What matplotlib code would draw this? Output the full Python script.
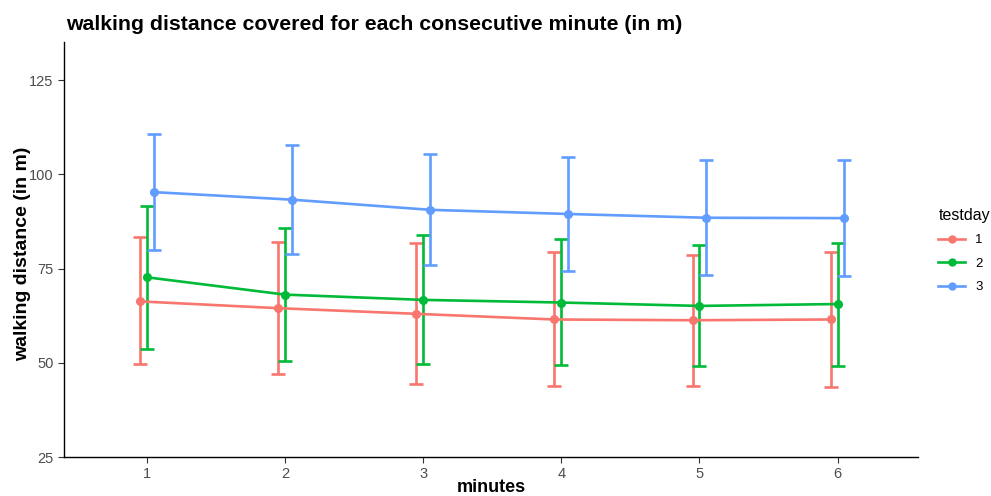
import numpy as np
import matplotlib
matplotlib.use("Agg")
import matplotlib.pyplot as plt
from matplotlib.lines import Line2D

plt.rcParams['font.family'] = ['Liberation Sans', 'DejaVu Sans']

minutes = [1, 2, 3, 4, 5, 6]
testdays = ["1", "2", "3"]
colors = ["#F8766D", "#00BA38", "#619CFF"]

# mean distance per minute and the error bar ends, one list per testday
mean_day1 = [66.3, 64.5, 63.0, 61.5, 61.3, 61.5]
low_day1 = [49.6, 46.9, 44.5, 43.9, 43.9, 43.7]
high_day1 = [83.3, 82.0, 81.7, 79.4, 78.7, 79.5]

mean_day2 = [72.7, 68.1, 66.7, 66.0, 65.1, 65.6]
low_day2 = [53.7, 50.4, 49.8, 49.3, 49.2, 49.2]
high_day2 = [91.7, 85.9, 84.0, 82.8, 81.2, 81.9]

mean_day3 = [95.3, 93.3, 90.6, 89.5, 88.5, 88.4]
low_day3 = [79.9, 78.9, 76.0, 74.3, 73.2, 73.1]
high_day3 = [110.6, 107.8, 105.3, 104.7, 103.9, 103.7]

means = [mean_day1, mean_day2, mean_day3]
lows = [low_day1, low_day2, low_day3]
highs = [high_day1, high_day2, high_day3]

fig = plt.figure(figsize=(9.91, 4.96), dpi=100)
ax = fig.add_axes([0.0646, 0.0786, 0.8614, 0.8364])

dodge = [-0.05, 0.0, 0.05]
x = np.array(minutes, dtype=float)
handles = []
for i in range(3):
    m = np.array(means[i])
    lo = m - np.array(lows[i])
    hi = np.array(highs[i]) - m
    ax.errorbar(x + dodge[i], m, yerr=[lo, hi], color=colors[i], lw=1.9,
                marker="o", markersize=5.5, capsize=5, capthick=1.9,
                elinewidth=1.9)
    handles.append(Line2D([], [], color=colors[i], lw=1.9, marker="o",
                          markersize=5, label=testdays[i]))

ax.set_xlim(0.4, 6.58)
ax.set_ylim(25, 135.1)
ax.set_xticks(minutes)
ax.set_yticks([25, 50, 75, 100, 125])
ax.tick_params(axis="both", colors="#333333", labelsize=10.5, length=4, width=0.8,
               labelcolor="#4D4D4D")
for s in ["top", "right"]:
    ax.spines[s].set_visible(False)
for s in ["left", "bottom"]:
    ax.spines[s].set_color("black")
    ax.spines[s].set_linewidth(1.0)

ax.set_title("walking distance covered for each consecutive minute (in m)",
             loc="left", fontsize=15.3, fontweight="bold", pad=9, x=0.002)
ax.set_ylabel("walking distance (in m)", fontsize=14, fontweight="bold")
ax.yaxis.set_label_coords(-0.039, 0.489)
ax.set_xlabel("minutes", fontsize=13, fontweight="bold")
ax.xaxis.set_label_coords(0.5, -0.053)

leg = ax.legend(handles=handles, title="testday", loc="upper left",
                bbox_to_anchor=(0.935, 0.605), bbox_transform=fig.transFigure,
                frameon=False, fontsize=9.5, title_fontsize=11.5,
                handlelength=2.0, labelspacing=0.85)
leg._legend_box.align = "left"

fig.savefig("out.png", dpi=100)
